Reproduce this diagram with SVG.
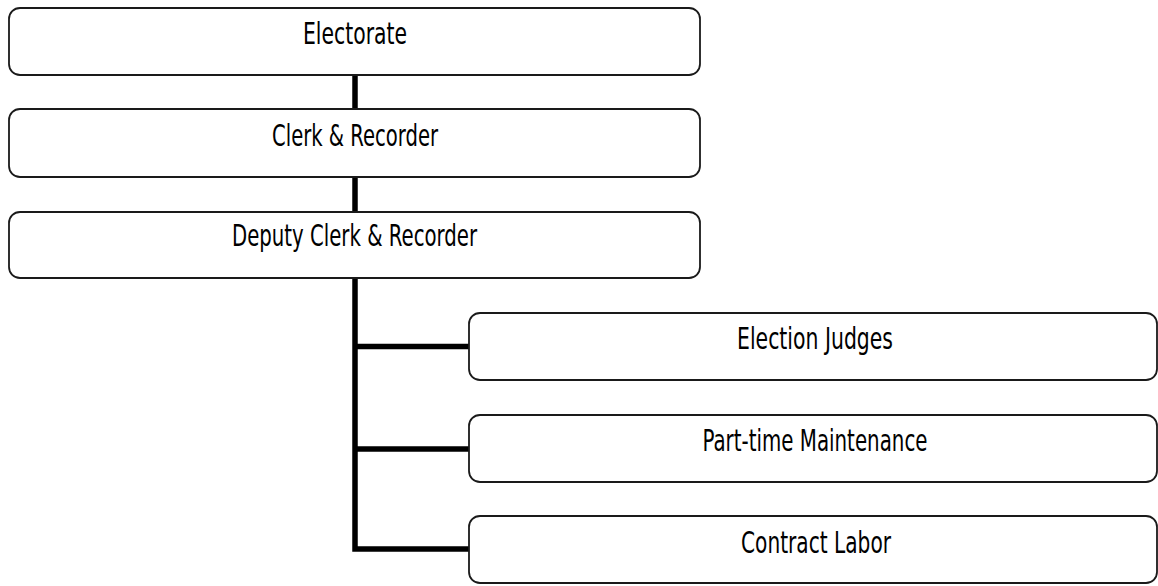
<svg xmlns="http://www.w3.org/2000/svg" width="1158" height="586" viewBox="0 0 1158 586">
<style>
.box{fill:#ffffff;stroke:#1a1a1a;stroke-width:1.8}
.lbl{font-family:"Liberation Sans Narrow","DejaVu Sans Condensed","Liberation Sans",sans-serif;font-size:30px;fill:#000;text-anchor:middle}
.conn{fill:none;stroke:#000;stroke-width:5.5}
</style>
<rect width="1158" height="586" fill="#ffffff"/>
<g id="connectors">
<line class="conn" x1="355" y1="75" x2="355" y2="109"/>
<line class="conn" x1="355" y1="177" x2="355" y2="212"/>
<polyline class="conn" points="355,278 355,549 469,549"/>
<line class="conn" x1="355" y1="346.5" x2="469" y2="346.5"/>
<line class="conn" x1="355" y1="449" x2="469" y2="449"/>
</g>
<g id="electorate">
<rect class="box" x="9" y="8" width="691" height="67" rx="11"/>
<text class="lbl" x="355" y="44" textLength="104" lengthAdjust="spacingAndGlyphs">Electorate</text>
</g>
<g id="clerk">
<rect class="box" x="9" y="109" width="691" height="68" rx="11"/>
<text class="lbl" x="355" y="146" textLength="166" lengthAdjust="spacingAndGlyphs">Clerk &amp; Recorder</text>
</g>
<g id="deputy">
<rect class="box" x="9" y="212" width="691" height="66" rx="11"/>
<text class="lbl" x="354.5" y="246" textLength="245" lengthAdjust="spacingAndGlyphs">Deputy Clerk &amp; Recorder</text>
</g>
<g id="judges">
<rect class="box" x="469" y="313" width="688" height="67" rx="11"/>
<text class="lbl" x="815" y="349" textLength="156" lengthAdjust="spacingAndGlyphs">Election Judges</text>
</g>
<g id="maintenance">
<rect class="box" x="469" y="415" width="688" height="67" rx="11"/>
<text class="lbl" x="815" y="451" textLength="225" lengthAdjust="spacingAndGlyphs">Part-time Maintenance</text>
</g>
<g id="labor">
<rect class="box" x="469" y="516" width="688" height="67" rx="11"/>
<text class="lbl" x="816" y="553" textLength="150" lengthAdjust="spacingAndGlyphs">Contract Labor</text>
</g>
</svg>
